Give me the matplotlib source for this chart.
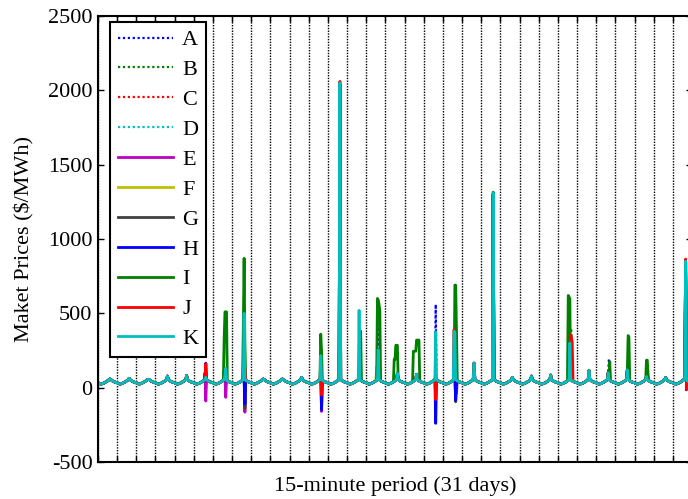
"""
Market prices of eleven cases over 31 days of 15-minute periods.
"""

import matplotlib
matplotlib.use("Agg")
import matplotlib.pyplot as plt
import numpy as np

# ── DATA ──────────────────────────────────────────────────────────────────────
N_DAYS = 31
SERIES = ["A", "B", "C", "D", "E", "F", "G", "H", "I", "J", "K"]
ALL = "ABCDEFGHIJK"

# typical daily shape, hourly values ($/MWh); hour 15 is replaced by DAY_PEAK
BASE_SHAPE = [33, 30, 27, 25, 25, 26, 28, 30, 33, 36, 39, 42,
              46, 50, 55, 60, 55, 50, 46, 43, 40, 38, 36, 34]

# evening peak of the common curve, one per day
DAY_PEAK = [58, 63, 56, 78, 82, 70, 80, 75, 58, 58, 70, 75, 75, 75, 75, 98,
            90, 75, 75, 165, 75, 70, 78, 85, 75, 115, 100, 120, 75, 68, 75]

# price events: (series, day, start hour, number of hours, value)
EVENTS = [
    ("E", 5, 14, 1, 100), ("E", 5, 15, 1, -90),
    ("H", 5, 15, 1, 165), ("J", 5, 15, 1, 160),
    ("I", 6, 14, 1, 330), ("I", 6, 15, 3, 510),
    ("K", 6, 16, 1, 130), ("E", 6, 16, 1, -65),
    ("I", 7, 14, 1, 400), ("I", 7, 15, 1, 870), ("I", 7, 16, 1, 300),
    ("K", 7, 15, 1, 500), ("J", 7, 16, 1, 130),
    ("E", 7, 16, 1, -165), ("G", 7, 16, 1, -140), ("H", 7, 16, 1, -110),
    ("I", 11, 15, 1, 360), ("I", 11, 16, 1, 250), ("K", 11, 15, 1, 215),
    ("J", 11, 15, 1, 150), ("J", 11, 16, 1, -50),
    ("H", 11, 16, 1, -150), ("E", 11, 16, 1, -160),
    (ALL, 12, 15, 1, 2040), ("J", 12, 15, 1, 2060), ("K", 12, 15, 1, 2050),
    ("K", 13, 15, 1, 520), ("I", 13, 16, 2, 380),
    ("F", 14, 13, 1, 140), ("I", 14, 14, 1, 600), ("I", 14, 15, 1, 590),
    ("I", 14, 16, 1, 560), ("I", 14, 17, 1, 520),
    ("A", 14, 15, 1, 440), ("K", 14, 15, 1, 255),
    ("I", 15, 11, 2, 190), ("I", 15, 13, 3, 285),
    ("I", 16, 11, 4, 245), ("I", 16, 15, 4, 320),
    ("A", 17, 15, 1, 560), ("K", 17, 15, 1, 375),
    ("H", 17, 15, 1, -240), ("J", 17, 15, 1, -80),
    ("A", 18, 14, 1, 395), ("J", 18, 14, 1, 390), ("K", 18, 14, 1, 380),
    ("K", 18, 15, 1, 360), ("I", 18, 15, 2, 690), ("I", 18, 17, 1, 400),
    ("G", 18, 16, 1, -95), ("H", 18, 16, 1, -85), ("E", 18, 17, 1, -40),
    (ALL, 20, 15, 1, 1300), ("I", 20, 15, 1, 1315), ("K", 20, 15, 1, 1310),
    ("I", 24, 13, 1, 620), ("I", 24, 14, 1, 610), ("I", 24, 15, 1, 600),
    ("K", 24, 15, 1, 300), ("B", 24, 16, 1, 400), ("B", 24, 17, 1, 380),
    ("J", 24, 16, 1, 355), ("J", 24, 17, 1, 340), ("J", 24, 18, 1, 300),
    ("A", 26, 16, 1, 195), ("I", 26, 17, 1, 175),
    ("I", 27, 16, 1, 350), ("I", 27, 17, 1, 340),
    ("I", 28, 15, 2, 185), ("I", 28, 17, 1, 90),
    (ALL, 30, 16, 1, 850), ("J", 30, 16, 1, 865),
    ("J", 30, 17, 1, -10), ("H", 30, 17, 1, -15),
]

# ── STYLE ─────────────────────────────────────────────────────────────────────
COLORS = {
    "A": (0, 0, 1), "B": (0, 0.5, 0), "C": (1, 0, 0), "D": (0, 0.75, 0.75),
    "E": (0.75, 0, 0.75), "F": (0.75, 0.75, 0), "G": (0.25, 0.25, 0.25),
    "H": (0, 0, 1), "I": (0, 0.5, 0), "J": (1, 0, 0), "K": (0, 0.75, 0.75),
}
DOTTED = "ABCD"

plt.rcParams["font.family"] = ["Liberation Serif", "DejaVu Serif"]
plt.rcParams["axes.unicode_minus"] = False


def build_series():
    base = np.tile(np.array(BASE_SHAPE, dtype=float), N_DAYS)
    base[np.arange(N_DAYS) * 24 + 15] = DAY_PEAK
    out = {}
    for s in SERIES:
        y = base.copy()
        for letters, day, hr, n, val in EVENTS:
            if s in letters:
                i0 = day * 24 + hr
                y[i0:i0 + n] = val
        out[s] = y
    return out


def main():
    data = build_series()
    x = np.arange(N_DAYS * 24) * 4  # 15-minute period index

    fig = plt.figure(figsize=(6.88, 4.99), dpi=100)
    ax = fig.add_axes([98 / 688, 37 / 499, 594 / 688, 446 / 499])

    for s in SERIES:
        if s in DOTTED:
            ax.plot(x, data[s], color=COLORS[s], linestyle=(0, (1, 1.2)),
                    linewidth=1.6, label=s)
        else:
            ax.plot(x, data[s], color=COLORS[s], linestyle="-", linewidth=2.0,
                    label=s)

    ax.set_xlim(0, N_DAYS * 96)
    ax.set_ylim(-500, 2500)
    ax.set_xticks(np.arange(0, N_DAYS * 96 + 1, 96))
    ax.set_xticklabels([])
    ax.set_yticks(np.arange(-500, 2501, 500))
    ax.grid(axis="x", color="black", linestyle=(0, (1, 1)), linewidth=1.0)
    ax.tick_params(direction="in", length=4, width=1, top=True, right=True,
                   labelsize=16, pad=4)
    for sp in ax.spines.values():
        sp.set_linewidth(1.5)

    ax.set_xlabel("15-minute period (31 days)", fontsize=16, labelpad=6)
    ax.set_ylabel("Maket Prices ($/MWh)", fontsize=16, labelpad=10)

    leg = ax.legend(loc="upper left", bbox_to_anchor=(12 / 594, 1 - 6 / 446),
                    borderaxespad=0, fontsize=16, handlelength=2.5,
                    handletextpad=0.4, labelspacing=0.42, borderpad=0.35,
                    fancybox=False, framealpha=1, edgecolor="black")
    leg.get_frame().set_linewidth(1.5)

    fig.savefig("out.png", dpi=100)


if __name__ == "__main__":
    main()
